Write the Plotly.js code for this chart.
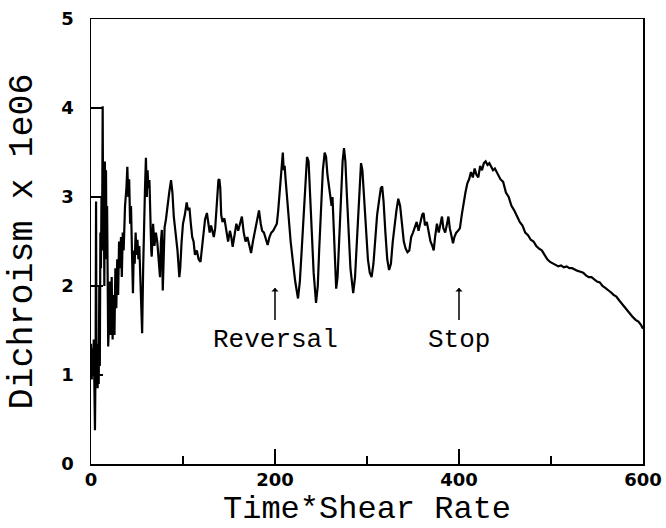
<!DOCTYPE html>
<html>
<head>
<meta charset="utf-8">
<script src="https://cdn.plot.ly/plotly-3.0.1.min.js"></script>
<style>html,body{margin:0;padding:0;background:#fff;}#chart{width:666px;height:528px;}</style>
</head>
<body>
<div id="chart"></div>
<script>
// Time*Shear Rate (x) values
const timeShear = [
  0,0.8,1.5,2.2,3,3.6,4.3,5,5.5,6,6.6,7.2,7.8,8.4,9,9.6,10.2,10.8,11.4,12,12.7,13.3,13.9,14.5,15.1,15.7,16.3,16.9,17.5,18.1,18.7,19.5,
  20.5,21.5,22.5,23.5,24.5,25.5,26.5,27.5,28.5,29.5,30.5,31.5,32.6,33.5,34.5,35.5,37,38.5,39.5,40.5,41.5,42.5,43.5,44.5,45.6,46.5,47.5,48.5,49.5,50.5,51.5,52.5,53.5,54.5,55.6,56.7,57.7,58.7,59.7,60.7,61.5,62.3,63.5,64.5,65.5,
  66,67.5,69,70.5,72,73.5,75,76,77,78,79,80,81.5,83,85,87,88.5,90,92,94,96,97,98.5,100,102,104,105.5,107,108.5,110,111.5,113,115,117,119,120.5,122,124,126,127.5,129,130.5,132,133.5,135,136.5,137.5,138.5,139.5,140.5,141.5,
  143,145,147,149,151,152.5,154,156,158,160,162,164,166,168,170,172,174,176,178,180,182.6,184.5,186,188,190,192,194,196,198,200,202,203.5,205,206.5,207.5,208.5,209.5,210.5,211.5,213,
  215,217,219.6,222,225,227,229,231,233,234.8,236.5,238,240,242,244.6,246.5,248,250,252,254,255.5,257,258.5,260,261.5,262.5,263.5,265,266.5,268,270,272,273.5,275,276.5,278,280,282,285,287,289,291,293.5,295,297,299,301,303,305,307,309,311,313,315,316.5,318,320,322,324,326,328,330,332,334,336,338,340,342,344,346,348,350,352,354,356,358,360,361.5,363,365,367,369,371,372.5,374,376,378,380,381.5,383,385,387,388.5,390,392,393.5,395,397,399,
  401,403,405,407,409,411,413,415,417,419,421,423,425,427,429,431,433,435,437,439,441,443,445,448,451,454,457,460,463,466,469,472,475,478,481,484,487,490,493,496,499,502,505,508,511,514,517,520,523,526,529,532,535,538,541,544,547,550,553,556,559,562,565,568,571,574,577,580,583,586,589,592,595,598,600
];
// Dichroism x 1e06 (y) values, one per x value above
const dichroism = [
  1.35,0.95,1.3,1.0,1.4,0.9,0.38,1.2,2.95,1.0,1.35,0.85,1.3,0.9,2.0,1.1,2.6,2.2,3.0,2.5,4.02,2.4,3.1,2.0,3.4,2.6,3.3,2.3,2.9,1.9,1.32,1.6,
  2.05,1.45,2.1,1.4,1.9,1.45,2.2,1.75,2.3,1.9,2.5,2.2,2.55,2.1,2.6,2.4,2.9,3.1,3.34,3.0,3.2,2.7,2.9,2.4,1.92,2.4,2.25,2.6,2.35,2.52,2.3,2.45,2.15,1.8,1.47,2.2,2.8,3.1,3.44,3.0,3.3,3.1,3.19,2.6,2.4,
  2.33,2.7,2.45,2.6,2.5,2.3,2.1,2.5,2.63,1.95,2.3,2.66,2.75,2.9,3.05,3.19,3.05,2.78,2.6,2.4,2.1,2.2,2.5,2.7,2.8,2.94,2.85,2.88,2.7,2.55,2.5,2.35,2.4,2.3,2.27,2.4,2.6,2.75,2.82,2.7,2.6,2.68,2.62,2.55,2.65,2.85,3.05,3.19,3.2,3.1,2.8,
  2.72,2.76,2.6,2.5,2.62,2.55,2.44,2.55,2.7,2.62,2.72,2.78,2.6,2.5,2.55,2.45,2.37,2.5,2.6,2.7,2.85,2.7,2.62,2.6,2.52,2.46,2.55,2.6,2.62,2.66,2.7,2.85,3.05,3.2,3.3,3.5,3.3,3.35,3.2,3.0,
  2.75,2.5,2.26,2.05,1.86,2.05,2.4,2.8,3.2,3.45,3.4,3.05,2.6,2.15,1.81,2.0,2.4,2.85,3.3,3.5,3.45,3.25,3.15,3.05,2.9,3.0,2.7,2.3,1.97,2.1,2.6,3.1,3.4,3.55,3.4,3.05,2.6,2.2,1.92,2.1,2.5,2.95,3.38,3.3,2.95,2.6,2.3,2.15,2.1,2.25,2.55,2.8,2.95,3.1,3.12,2.95,2.6,2.3,2.18,2.25,2.5,2.7,2.85,2.98,2.9,2.7,2.5,2.42,2.38,2.4,2.55,2.6,2.65,2.72,2.62,2.7,2.8,2.82,2.68,2.72,2.6,2.5,2.45,2.4,2.55,2.7,2.6,2.72,2.78,2.65,2.6,2.7,2.78,2.65,2.55,2.48,2.55,2.6,2.62,
  2.65,2.8,2.95,3.05,3.15,3.2,3.28,3.22,3.32,3.25,3.22,3.35,3.3,3.38,3.4,3.36,3.38,3.33,3.3,3.32,3.28,3.25,3.2,3.17,3.05,3.0,2.9,2.85,2.78,2.72,2.68,2.6,2.57,2.52,2.5,2.45,2.42,2.4,2.35,2.3,2.27,2.25,2.24,2.22,2.23,2.21,2.22,2.2,2.2,2.18,2.17,2.16,2.15,2.12,2.1,2.1,2.07,2.05,2.04,2.0,1.98,1.96,1.93,1.9,1.88,1.84,1.8,1.76,1.72,1.69,1.65,1.62,1.6,1.56,1.52
];
// Axis tick labels
const xTickVals = [0, 200, 400, 600];
const yTickVals = [0, 1, 2, 3, 4, 5];
// Annotation labels and their positions (data units)
const markLabels = ["Reversal", "Stop"];
const markX = [200, 400];

const mono = "Liberation Mono, Courier New, monospace";
const tickFont = {family: 'DejaVu Sans, Arial, sans-serif', size: 18, weight: 'bold', color: '#000'};
const annotations = [];
markLabels.forEach((t, i) => {
  annotations.push({x: markX[i], y: 1.39, xref: 'x', yref: 'y', text: t, showarrow: false,
    font: {family: mono, size: 26, color: '#000'}});
  annotations.push({x: markX[i], y: 1.98, ax: markX[i], ay: 1.6, xref: 'x', yref: 'y', axref: 'x', ayref: 'y',
    text: '', showarrow: true, arrowhead: 1, arrowsize: 0.8, arrowwidth: 1.5, arrowcolor: '#000'});
});
// x-axis title, placed below the tick labels
annotations.push({x: 0.5, y: -0.102, xref: 'paper', yref: 'paper', xanchor: 'center', yanchor: 'middle',
  text: 'Time*Shear Rate', showarrow: false, font: {family: mono, size: 32, color: '#000'}});

const trace = {x: timeShear, y: dichroism, type: 'scatter', mode: 'lines',
  line: {color: '#000', width: 2.2}, hoverinfo: 'skip'};

const layout = {
  width: 666, height: 528,
  margin: {l: 91, r: 23, t: 19, b: 64},
  paper_bgcolor: '#fff', plot_bgcolor: '#fff',
  showlegend: false,
  xaxis: {range: [0, 600], tickvals: xTickVals, ticktext: xTickVals.map(String),
    showgrid: false, zeroline: false, showline: true, mirror: true, linecolor: '#000', linewidth: 1.5,
    ticks: 'inside', ticklen: 15, tickwidth: 1.5, tickcolor: '#000', ticklabelstandoff: -1,
    minor: {tickvals: [100, 300, 500], ticks: 'inside', ticklen: 8, tickwidth: 1.5, tickcolor: '#000'},
    tickfont: tickFont},
  yaxis: {range: [0, 5], tickvals: yTickVals, ticktext: yTickVals.map(String),
    showgrid: false, zeroline: false, showline: true, mirror: true, linecolor: '#000', linewidth: 1.5,
    ticks: 'inside', ticklen: 12, tickwidth: 1.5, tickcolor: '#000', ticklabelstandoff: 12,
    tickfont: tickFont,
    title: {text: 'Dichroism x 1e06', font: {family: mono, size: 35, color: '#000'}, standoff: 18}},
  annotations: annotations
};

Plotly.newPlot('chart', [trace], layout, {staticPlot: true, displayModeBar: false});
</script>
</body>
</html>
